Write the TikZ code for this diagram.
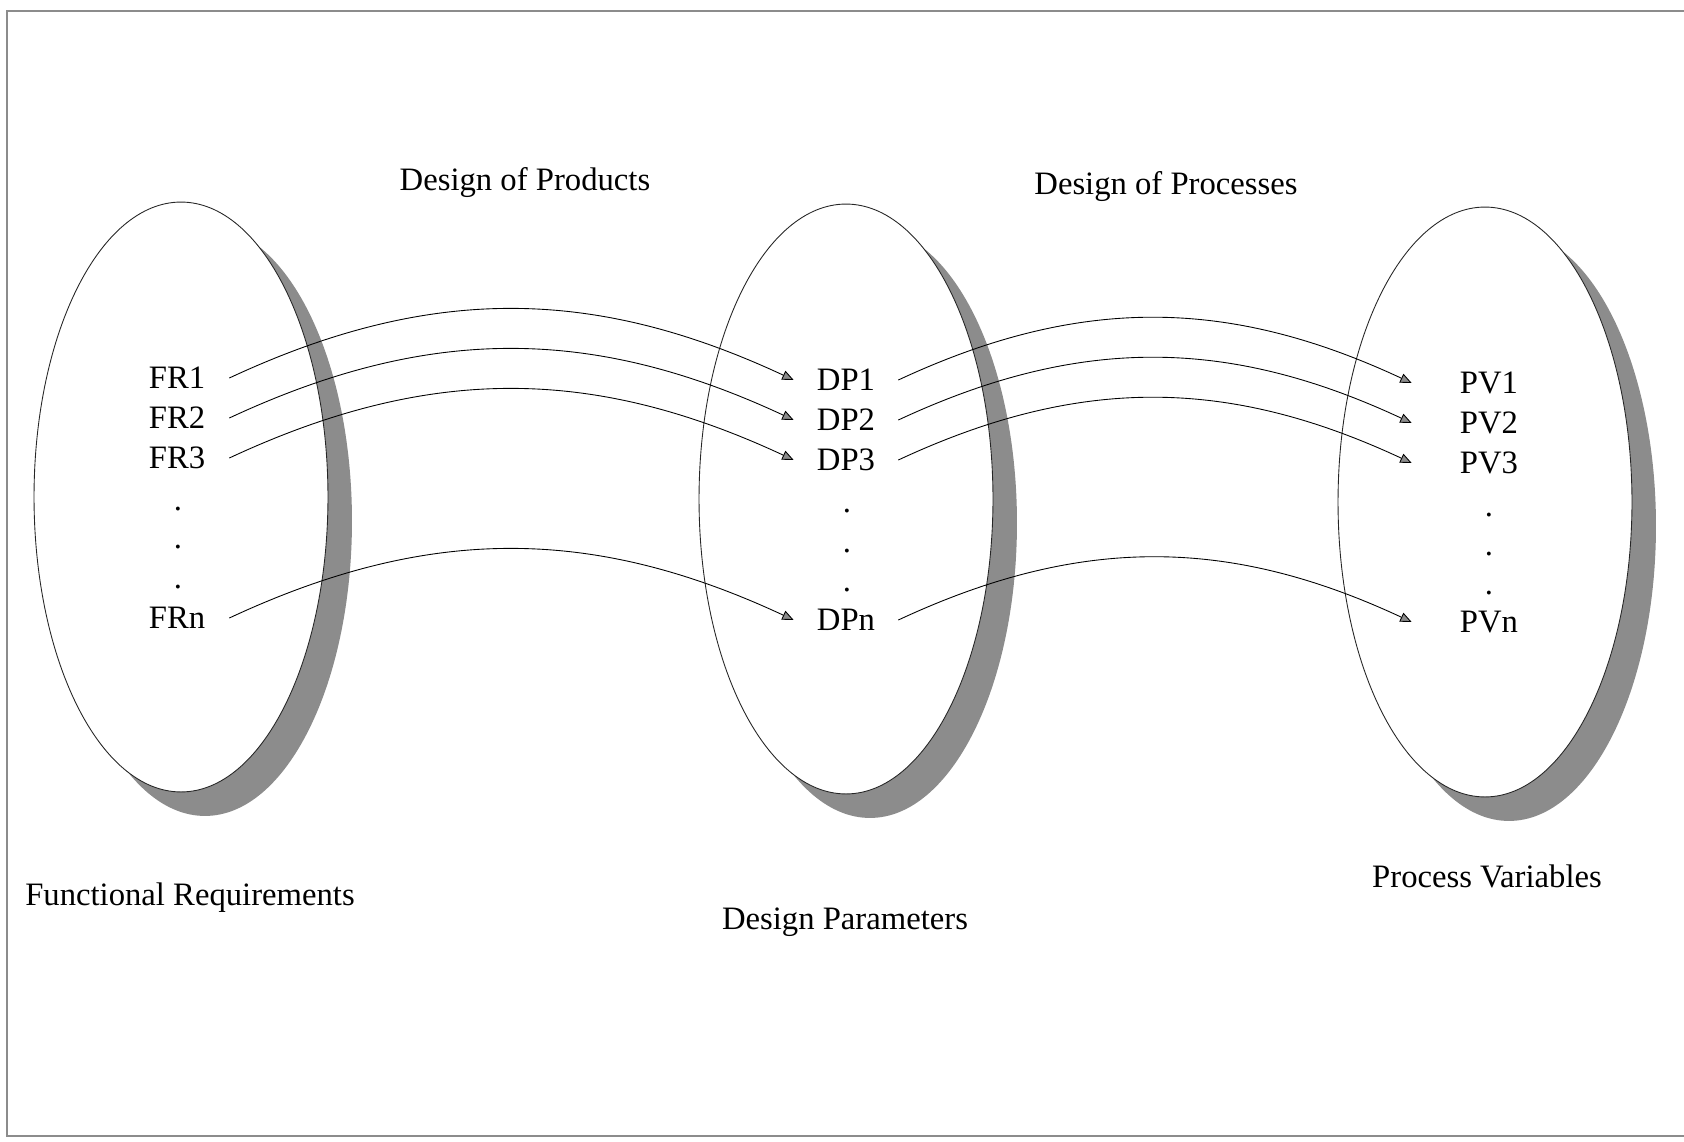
\documentclass[tikz,border=0pt]{standalone}
\usepackage{fontspec}
\setmainfont{Liberation Serif}
\usetikzlibrary{arrows.meta}

\tikzset{
  shadowset/.style={fill=black!45, draw=none},
  setoval/.style={fill=white, draw=black!85, line width=0.5pt},
  item/.style={font=\fontsize{18.6}{22}\selectfont, inner sep=0pt,
               text height=12.3pt, text depth=0pt, minimum width=2.08cm},
  pvitem/.style={item, minimum width=3.08cm},
  dotmark/.style={font=\fontsize{18.6}{22}\selectfont, inner sep=0pt},
  caption/.style={font=\fontsize{18.6}{22}\selectfont, inner sep=0pt},
  flow/.style={-{Triangle[length=6.5pt,width=5.5pt,fill=black!45]},
               line width=0.5pt, out=25, in=155},
  frame/.style={draw=black!45, line width=0.6pt}
}

\begin{document}
\begin{tikzpicture}[x=0.02cm, y=-0.02cm]
    \useasboundingbox (0,0) rectangle (1684,1142);
    % scanned page border
    \draw[frame] (1684,11) -- (7,11) -- (7,1136) -- (1684,1136);

    % shadows behind the three sets
    \fill[shadowset] (205,521) ellipse [x radius=2.94cm, y radius=5.9cm];
    \fill[shadowset] (870,523) ellipse [x radius=2.94cm, y radius=5.9cm];
    \fill[shadowset] (1509,526) ellipse [x radius=2.94cm, y radius=5.9cm];
    % the sets themselves
    \draw[setoval] (181,497) ellipse [x radius=2.94cm, y radius=5.9cm];
    \draw[setoval] (846,499) ellipse [x radius=2.94cm, y radius=5.9cm];
    \draw[setoval] (1485,502) ellipse [x radius=2.94cm, y radius=5.9cm];

    % functional requirements
    \node[item] (fr1) at (177,378) {FR1};
    \node[item] (fr2) at (177,418) {FR2};
    \node[item] (fr3) at (177,458) {FR3};
    \node[dotmark] (frdot1) at (178,509) {.};
    \node[dotmark] (frdot2) at (178,547) {.};
    \node[dotmark] (frdot3) at (178,587) {.};
    \node[item] (frn) at (177,618) {FRn};

    % design parameters
    \node[item] (dp1) at (846,380) {DP1};
    \node[item] (dp2) at (846,420) {DP2};
    \node[item] (dp3) at (846,460) {DP3};
    \node[dotmark] (dpdot1) at (847,511) {.};
    \node[dotmark] (dpdot2) at (847,551) {.};
    \node[dotmark] (dpdot3) at (847,590) {.};
    \node[item] (dpn) at (846,620) {DPn};

    % process variables
    \node[pvitem] (pv1) at (1489,383) {PV1};
    \node[pvitem] (pv2) at (1489,423) {PV2};
    \node[pvitem] (pv3) at (1489,463) {PV3};
    \node[dotmark] (pvdot1) at (1489,515) {.};
    \node[dotmark] (pvdot2) at (1489,554) {.};
    \node[dotmark] (pvdot3) at (1489,593) {.};
    \node[pvitem] (pvn) at (1489,622) {PVn};

    % mapping FR -> DP
    \draw[flow] (fr1.east) to (dp1.west);
    \draw[flow] (fr2.east) to (dp2.west);
    \draw[flow] (fr3.east) to (dp3.west);
    \draw[flow] (frn.east) to (dpn.west);
    % mapping DP -> PV
    \draw[flow] (dp1.east) to (pv1.west);
    \draw[flow] (dp2.east) to (pv2.west);
    \draw[flow] (dp3.east) to (pv3.west);
    \draw[flow] (dpn.east) to (pvn.west);

    % headings and set names
    \node[caption] (products) at (525,183) {Design of Products};
    \node[caption] (processes) at (1166,187) {Design of Processes};
    \node[caption] (frname) at (190,898) {Functional Requirements};
    \node[caption] (dpname) at (845,922) {Design Parameters};
    \node[caption] (pvname) at (1487,876) {Process Variables};
\end{tikzpicture}
\end{document}
